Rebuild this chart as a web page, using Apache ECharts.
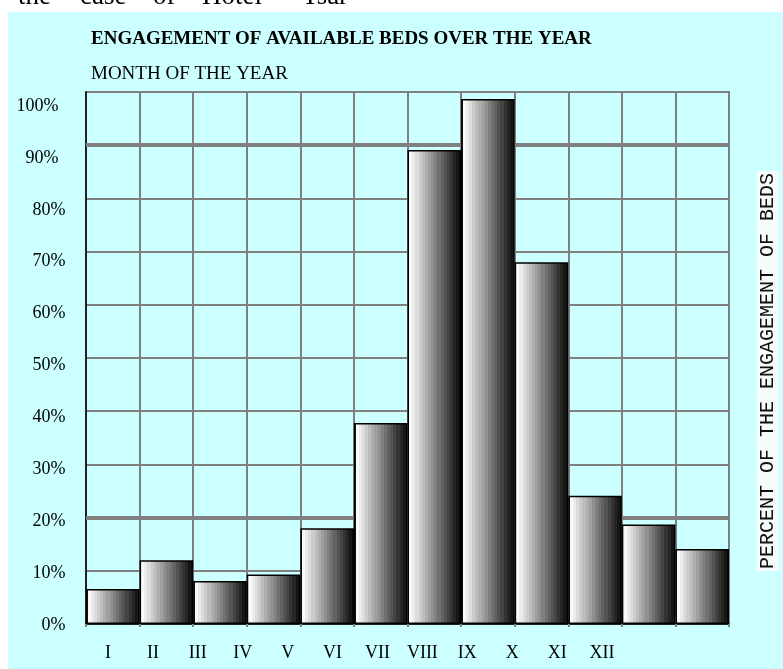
<!DOCTYPE html>
<html>
<head>
<meta charset="utf-8">
<script src="https://cdn.jsdelivr.net/npm/echarts@6/dist/echarts.min.js"></script>
<style>
html,body{margin:0;padding:0;background:#fff;}
#chart{width:783px;height:669px;}
</style>
</head>
<body>
<div id="chart"></div>
<script>
// ---- data ----
const categories = ['I', 'II', 'III', 'IV', 'V', 'VI', 'VII', 'VIII', 'IX', 'X', 'XI', 'XII'];
const engagement = [6.6, 12.0, 8.1, 9.3, 18.0, 37.8, 89.1, 98.7, 68.0, 24.1, 18.7, 14.1];
const yMin = 0, yMax = 100, yStep = 10;
const titleText = 'ENGAGEMENT OF AVAILABLE BEDS OVER THE YEAR';
const subtitleText = 'MONTH OF THE YEAR';
const yAxisName = 'PERCENT OF THE ENGAGEMENT OF BEDS';
const headerWords = ['the', 'case', 'of', 'Hotel', '"Tsar'];

// ---- styles ----
const serif = '"Liberation Serif", "Times New Roman", serif';
const mono = '"Liberation Mono", "Courier New", monospace';

// banded grey gradient for the bars (white at left -> black at right)
function bandedGradient(n) {
  const stops = [];
  stops.push({offset: 0, color: '#222'});
  stops.push({offset: 0.03, color: '#222'});
  for (let i = 0; i < n; i++) {
    const a = 0.03 + 0.94 * i / n, b = 0.03 + 0.94 * (i + 1) / n;
    const g = Math.round(250 - (250 - 22) * i / (n - 1));
    const c = 'rgb(' + g + ',' + g + ',' + g + ')';
    stops.push({offset: a, color: c});
    stops.push({offset: b, color: c});
  }
  stops.push({offset: 0.97, color: '#111'});
  stops.push({offset: 1, color: '#111'});
  return {type: 'linear', x: 0, y: 0, x2: 1, y2: 0, colorStops: stops};
}

const headerX = [18, 80, 153, 202, 291];

const chart = echarts.init(document.getElementById('chart'), null, {renderer: 'canvas'});
chart.setOption({
  backgroundColor: '#ffffff',
  animation: false,
  graphic: [
    {type: 'rect', z: -10, shape: {x: 8, y: 12, width: 775, height: 657}, style: {fill: '#ccffff'}},
    ...headerWords.map((w, i) => ({
      type: 'text', z: 5, x: headerX[i], y: -3,
      style: {text: w, font: '27px ' + serif, fill: '#000', textVerticalAlign: 'middle'}
    })),
    {
      type: 'text', z: 5, x: 768, y: 371, rotation: Math.PI / 2,
      style: {
        text: yAxisName, font: '20px ' + mono, fill: '#111',
        textAlign: 'center', textVerticalAlign: 'middle',
        backgroundColor: '#f6fbfb', padding: [1, 2]
      }
    }
  ],
  title: [
    {text: titleText, left: 86, top: 25,
     textStyle: {fontFamily: serif, fontSize: 19, fontWeight: 'bold', color: '#000'}},
    {text: subtitleText, left: 86, top: 60,
     textStyle: {fontFamily: serif, fontSize: 19, fontWeight: 'normal', color: '#000'}}
  ],
  grid: [
    {left: 86, top: 92, width: 643, height: 532, show: true, borderColor: '#000', borderWidth: 1.5, backgroundColor: 'transparent'},
    {left: 85.5, top: 106, width: 539, height: 519, show: false}
  ],
  xAxis: [
    {
      type: 'category', gridIndex: 0, data: categories, boundaryGap: true,
      axisLine: {show: true, lineStyle: {color: '#000', width: 1.5}},
      axisTick: {show: true, length: 3, lineStyle: {color: '#808080', width: 2}},
      axisLabel: {show: false},
      splitLine: {show: true, lineStyle: {color: '#808080', width: 2}}
    },
    {
      type: 'category', gridIndex: 1, data: categories, boundaryGap: true,
      axisLine: {show: false}, axisTick: {show: false}, splitLine: {show: false},
      axisLabel: {show: true, interval: 0, margin: 19, fontFamily: serif, fontSize: 18, color: '#000'}
    }
  ],
  yAxis: [
    {
      type: 'value', gridIndex: 0, min: yMin, max: yMax, interval: yStep,
      axisLine: {show: true, lineStyle: {color: '#000', width: 1.5}},
      axisTick: {show: false}, axisLabel: {show: false},
      splitLine: {show: true, lineStyle: {color: '#808080', width: 2}}
    },
    {
      type: 'value', gridIndex: 1, min: yMin, max: yMax, interval: yStep,
      axisLine: {show: false}, axisTick: {show: false}, splitLine: {show: false},
      axisLabel: {
        show: true, margin: 20, fontFamily: serif, fontSize: 18, color: '#000',
        formatter: v => (v >= 90 ? '{s|' + v + '%}' : v + '%'),
        rich: {s: {fontFamily: serif, fontSize: 18, color: '#000', padding: [0, 7, 0, 0]}}
      }
    }
  ],
  series: [
    {
      type: 'bar', xAxisIndex: 0, yAxisIndex: 0, data: engagement,
      barCategoryGap: '0%', barGap: '0%',
      itemStyle: {color: bandedGradient(16), borderColor: '#000', borderWidth: 1.5},
      markLine: {
        z: 1, silent: true, symbol: 'none', label: {show: false},
        lineStyle: {color: '#808080', width: 4, type: 'solid'},
        data: [{yAxis: 90}, {yAxis: 20}]
      }
    }
  ]
});
</script>
</body>
</html>
